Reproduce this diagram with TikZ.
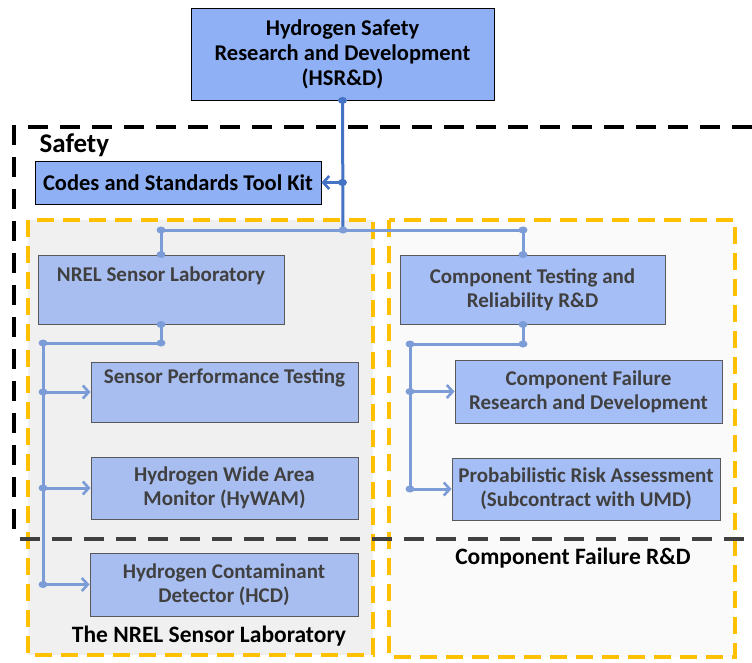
\documentclass[tikz,border=0pt]{standalone}
\usepackage{fontspec}
\setmainfont{Carlito}
\usepackage{xcolor}
\usetikzlibrary{arrows.meta,calc,positioning}

\definecolor{boxblue}{HTML}{8FB0F5}
\definecolor{fadeblue}{HTML}{A9BEF0}
\definecolor{fadeblueR}{HTML}{A6BEF6}
\definecolor{fadeline}{HTML}{595959}
\definecolor{fadetext}{HTML}{404040}
\definecolor{trunkblue}{HTML}{4472C4}
\definecolor{branchblue}{HTML}{7C9CD8}
\definecolor{paneyellow}{HTML}{FFC000}
\definecolor{paneleft}{HTML}{F0F0F0}
\definecolor{paneright}{HTML}{FAFAFA}

\tikzset{
  topbox/.style={draw=black, fill=boxblue, line width=0.9pt, align=center,
    font=\fontsize{22.5}{25}\selectfont\bfseries},
  subbox/.style={draw=fadeline, fill=fadeblue, text=fadetext, line width=0.9pt,
    align=center, font=\fontsize{21}{24}\selectfont\bfseries},
  trunk/.style={trunkblue, line width=3pt},
  branch/.style={branchblue, line width=3pt},
  barb/.style={-{Straight Barb[length=6pt,width=13pt,line width=2.6pt]}},
  pane/.style={draw=paneyellow, line width=3.5pt, dash pattern=on 17pt off 9pt},
  safetyline/.style={line width=4.5pt, dash pattern=on 20pt off 12pt}
}

\begin{document}
\begin{tikzpicture}[x=1pt,y=-1pt]
\useasboundingbox (0,0) rectangle (752,662);

% Panels
\draw[pane, fill=paneleft] (28,220) rectangle (373,655);
\draw[pane, fill=paneright] (389,220) rectangle (735,657);

% Safety frame
\draw[safetyline] (752,127) -| (14,539);
\draw[safetyline, fadetext, line width=3.5pt] (20,539) -- (752,539);
\node[font=\fontsize{27}{30}\selectfont\bfseries, anchor=west] (safety) at (36,145) {Safety};

% Top boxes
\node[topbox, minimum width=303pt, minimum height=92pt] (hsrd) at (342.5,54)
  {Hydrogen Safety\\Research and Development\\(HSR\&D)};
\node[topbox, minimum width=286pt, minimum height=43pt] (codes) at (178,182.5)
  {Codes and Standards Tool Kit};

% NREL sensor lab
\node[subbox, minimum width=246pt, minimum height=69pt] (nrel) at (161,289.5)
  {NREL Sensor Laboratory\\\strut};
\node[subbox, minimum width=267pt, minimum height=60pt] (spt) at (224.5,392)
  {Sensor Performance Testing\\\strut};
\node[subbox, minimum width=267pt, minimum height=62pt] (hywam) at (224.5,488)
  {Hydrogen Wide Area\\Monitor (HyWAM)};
\node[subbox, minimum width=268pt, minimum height=63pt] (hcd) at (224,584.5)
  {Hydrogen Contaminant\\Detector (HCD)};
\node[font=\fontsize{23.5}{26}\selectfont\bfseries] (nrellab) at (209,636)
  {The NREL Sensor Laboratory};

% Component testing
\node[subbox, fill=fadeblueR, minimum width=265pt, minimum height=69pt] (ctr) at (532.5,289.5)
  {Component Testing and\\Reliability R\&D};
\node[subbox, fill=fadeblueR, minimum width=267pt, minimum height=63pt] (cfrd) at (588.5,391.5)
  {Component Failure\\Research and Development};
\node[subbox, fill=fadeblueR, minimum width=268pt, minimum height=62pt] (pra) at (586,489)
  {Probabilistic Risk Assessment\\(Subcontract with UMD)};
\node[font=\fontsize{23.5}{26}\selectfont\bfseries] (cflab) at (573,558)
  {Component Failure R\&D};

% Connectors
\coordinate (hub) at (343,230);
\coordinate (ctrtop) at ([xshift=-9.5pt]ctr.north);
\coordinate (ctrbot) at ([xshift=-9.5pt]ctr.south);
\coordinate (lbus) at (43,343);
\coordinate (rbus) at (410,344);

\draw[branch] (nrel.north) -- (nrel.north |- hub) -- (ctrtop |- hub) -- (ctrtop);
\draw[trunk] (hsrd.south) -- (hub);
\draw[trunk, barb] (hsrd.south |- codes.east) -- (codes.east);

\draw[branch] (nrel.south) -- (nrel.south |- lbus) -- (lbus) -- (lbus |- hcd.west);
\draw[branch, barb] (lbus |- spt.west) -- (spt.west);
\draw[branch, barb] (lbus |- hywam.west) -- (hywam.west);
\draw[branch, barb] (lbus |- hcd.west) -- (hcd.west);

\draw[branch] (ctrbot) -- (ctrbot |- rbus) -- (rbus) -- (rbus |- pra.west);
\draw[branch, barb] (rbus |- cfrd.west) -- (cfrd.west);
\draw[branch, barb] (rbus |- pra.west) -- (pra.west);

% Dots
\foreach \p in {hsrd.south, hsrd.south |- codes.east}
  \fill[trunkblue] (\p) ellipse (4.5pt and 3.5pt);
\foreach \p in {hub, nrel.north |- hub, nrel.north, ctrtop |- hub, ctrtop,
    nrel.south, nrel.south |- lbus, lbus, lbus |- spt.west, lbus |- hywam.west, lbus |- hcd.west,
    ctrbot, ctrbot |- rbus, rbus, rbus |- cfrd.west, rbus |- pra.west}
  \fill[branchblue] (\p) ellipse (4.5pt and 3.5pt);

\end{tikzpicture}
\end{document}
